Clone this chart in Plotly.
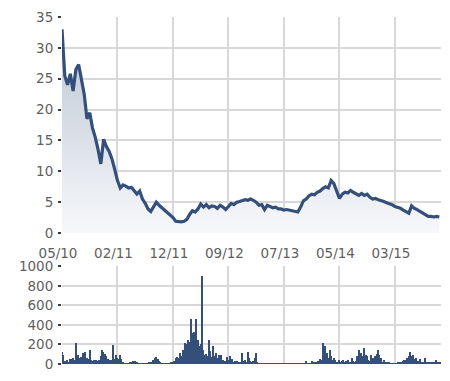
import numpy as np
import plotly.graph_objects as go

# ---- data ----
tick_labels = ["05/10", "02/11", "12/11", "09/12", "07/13", "05/14", "03/15"]
tick_positions = [0, 20, 40, 60, 80, 100, 120]  # trading-period index

price = [
    33.0, 25.5, 24.0, 25.8, 23.0, 26.5, 27.3, 25.0, 22.5, 18.5,
    19.5, 17.0, 15.5, 13.5, 11.2, 15.2, 14.0, 13.2, 12.0, 10.3,
    8.5, 7.3, 7.8, 7.6, 7.3, 7.4, 6.8, 6.3, 6.8, 5.5,
    4.8, 3.9, 3.5, 4.2, 5.0, 4.5, 4.1, 3.7, 3.3, 2.9,
    2.5, 1.9, 1.8, 1.8, 1.9, 2.2, 3.0, 3.6, 3.4, 3.9,
    4.7, 4.2, 4.6, 4.1, 4.4, 4.3, 4.0, 4.5, 4.2, 3.8,
    4.3, 4.8, 4.6, 5.0, 5.1, 5.2, 5.4, 5.3, 5.5, 5.3,
    5.0, 4.5, 4.6, 3.8, 4.5, 4.3, 4.1, 4.2, 3.9, 3.9,
    3.7, 3.8, 3.7, 3.6, 3.6, 3.4, 4.2, 5.2, 5.5, 6.0,
    6.3, 6.2, 6.6, 6.8, 7.2, 7.5, 7.3, 8.5, 8.0, 6.8,
    5.6, 6.3, 6.6, 6.5, 6.9, 6.6, 6.3, 6.1, 6.4, 6.1,
    6.3, 5.8, 5.5, 5.6, 5.4, 5.3, 5.1, 4.9, 4.8, 4.6,
    4.3, 4.2, 4.0, 3.7, 3.5, 3.2, 4.4, 4.0, 3.8, 3.5,
    3.2, 2.9, 2.7, 2.7, 2.6, 2.7, 2.6,
]

volume = [
    117, 90, 27, 20, 43, 10, 50, 45, 55, 40,
    217, 60, 93, 55, 70, 110, 50, 117, 60, 45,
    143, 40, 30, 35, 27, 43, 30, 40, 80, 137,
    120, 100, 77, 45, 30, 40, 35, 193, 50, 93,
    60, 45, 93, 50, 15, 5, 5, 5, 5, 8,
    15, 25, 33, 25, 10, 5, 3, 3, 2, 3,
    5, 5, 5, 8, 15, 20, 40, 55, 67, 45,
    25, 10, 5, 3, 3, 2, 3, 5, 5, 8,
    15, 30, 60, 70, 55, 110, 80, 143, 130, 210,
    200, 243, 220, 460, 310, 320, 260, 460, 243, 177,
    200, 893, 143, 93, 100, 80, 243, 127, 70, 177,
    80, 110, 60, 93, 50, 93, 43, 30, 25, 70,
    40, 77, 40, 50, 20, 27, 25, 15, 10, 20,
    110, 30, 40, 20, 120, 60, 30, 20, 25, 60,
    110, 20, 3, 3, 2, 3, 3, 2, 3, 3,
    2, 3, 3, 2, 3, 3, 2, 3, 3, 2,
    3, 3, 2, 3, 3, 2, 3, 3, 2, 3,
    3, 2, 3, 5, 3, 5, 27, 5, 3, 5,
    27, 10, 17, 10, 15, 25, 50, 40, 217, 120,
    177, 110, 60, 143, 77, 40, 60, 43, 20, 15,
    37, 20, 30, 37, 15, 25, 37, 20, 15, 60,
    25, 20, 30, 80, 143, 100, 110, 80, 160, 90,
    77, 40, 30, 93, 60, 45, 80, 100, 143, 93,
    60, 20, 37, 15, 17, 17, 10, 5, 5, 3,
    3, 5, 8, 10, 8, 15, 30, 43, 35, 60,
    80, 117, 77, 90, 45, 60, 30, 25, 50, 20,
    15, 10, 60, 15, 10, 17, 17, 10, 17, 10,
    37, 15, 10, 8,
]

price_x = np.arange(len(price))
vol_x = np.arange(len(volume)) * 0.5

LINE = "#34507a"
GRID = "#d8d8d8"
LABEL = "#5f5f5f"
FONT = "DejaVu Sans"

fig = go.Figure()
fig.add_trace(go.Scatter(
    x=price_x, y=price, mode="lines",
    line=dict(color=LINE, width=3.2),
    fill="tozeroy",
    fillgradient=dict(type="vertical", start=0, stop=35,
                      colorscale=[[0, "#f8f9fb"], [1, "#b9c3d1"]]),
    xaxis="x", yaxis="y", hoverinfo="skip",
))
fig.add_trace(go.Bar(
    x=vol_x, y=volume, width=0.5,
    marker=dict(color=LINE, line=dict(width=0)),
    xaxis="x2", yaxis="y2", hoverinfo="skip",
))

xr = [0, 136.6]
common_x = dict(range=xr, tickvals=tick_positions, showgrid=True, gridcolor=GRID,
                gridwidth=1.5, zeroline=False, showline=False, ticks="")
common_y = dict(showgrid=True, gridcolor=GRID, gridwidth=1.5, zeroline=False,
                showline=False, ticks="outside", ticklen=3, tickwidth=2,
                ticklabelstandoff=2,
                tickcolor="#3a3a3a", tickfont=dict(family=FONT, size=13.5, color=LABEL))

fig.update_layout(
    width=450, height=381,
    margin=dict(l=62, r=9, t=11, b=15),
    paper_bgcolor="white", plot_bgcolor="white",
    showlegend=False, bargap=0,
    xaxis=dict(**common_x, domain=[0, 1], anchor="y", ticktext=tick_labels,
               ticklabelshift=-4, ticklabelstandoff=10,
               tickfont=dict(family=FONT, size=13.5, color=LABEL)),
    yaxis=dict(**common_y, domain=[0.3775, 1], range=[0, 35], tickvals=[0, 5, 10, 15, 20, 25, 30, 35]),
    xaxis2=dict(**common_x, domain=[0, 1], anchor="y2", showticklabels=False),
    yaxis2=dict(**common_y, domain=[0, 0.2817], range=[0, 1000],
                tickvals=[0, 200, 400, 600, 800, 1000]),
)

fig.write_html("out.html")
